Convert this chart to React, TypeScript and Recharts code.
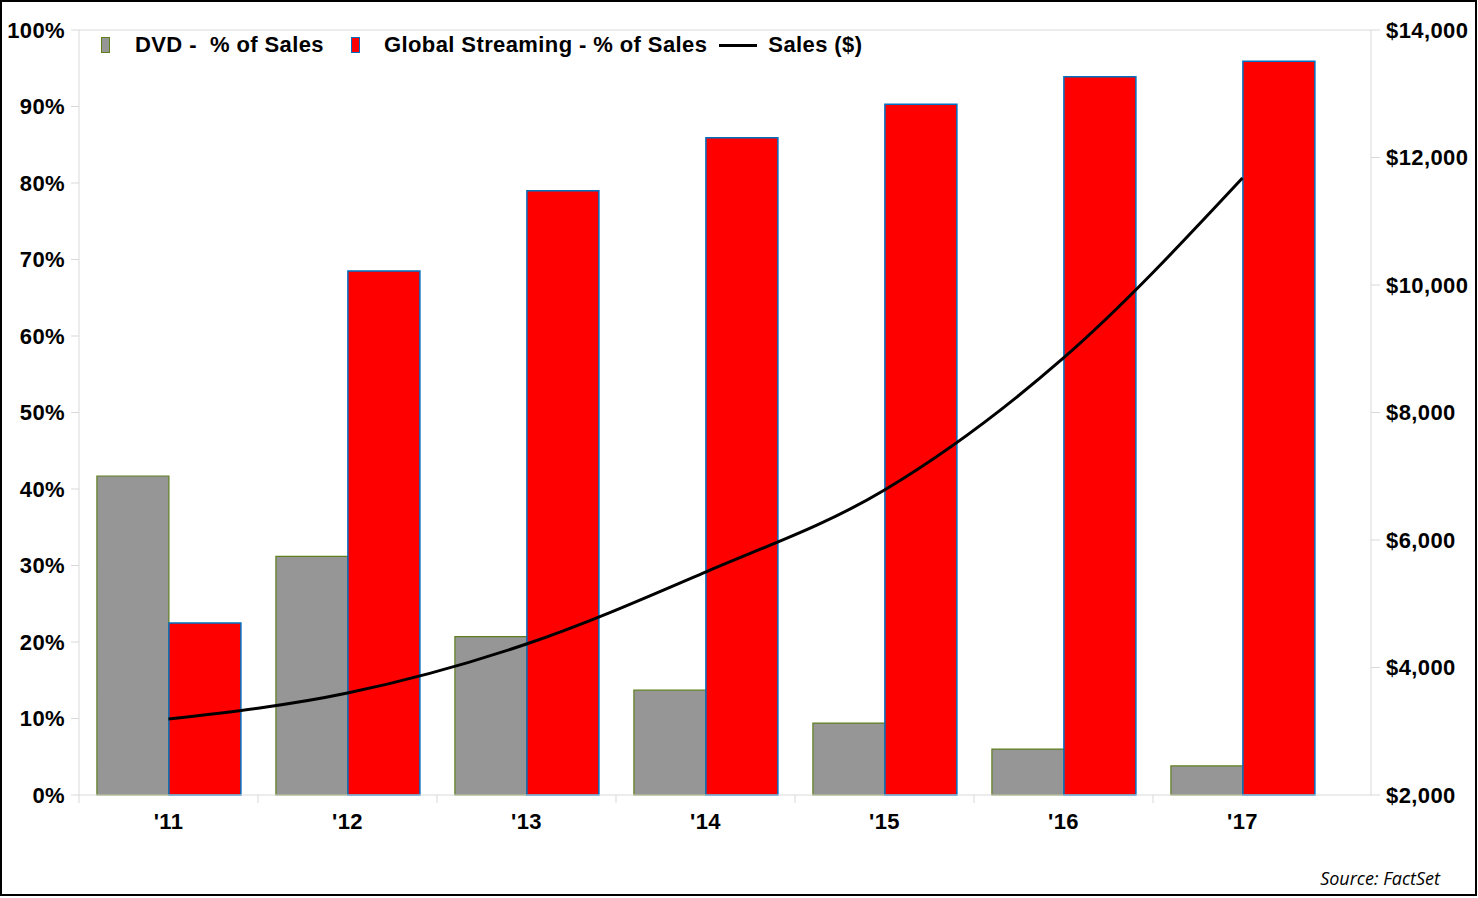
import { ComposedChart, Bar, Line, XAxis, YAxis, ReferenceLine } from 'recharts';

const years = ["'11", "'12", "'13", "'14", "'15", "'16", "'17"];
const dvdShare = [41.7, 31.2, 20.7, 13.7, 9.4, 6.0, 3.8];
const streamingShare = [22.5, 68.5, 79.0, 85.9, 90.3, 93.9, 95.9];
const salesUsd = [3192, 3600, 4369, 5498, 6784, 8855, 11678];

const pctTicks = [0, 10, 20, 30, 40, 50, 60, 70, 80, 90, 100];
const usdTicks = [2000, 4000, 6000, 8000, 10000, 12000, 14000];

const data = years.map((year, i) => ({
  year,
  dvd: dvdShare[i],
  streaming: streamingShare[i],
  sales: salesUsd[i],
}));

const W = 1478;
const H = 898;
const LEFT_W = 79;
const RIGHT_W = 107;
const X_PAD_RIGHT = 39;
const BAND = (W - LEFT_W - RIGHT_W - X_PAD_RIGHT) / years.length;

const FONT = '"Liberation Sans", Arial, sans-serif';
const GRID = '#d9d9d9';
const tickStyle = { fill: '#000', fontSize: 22, fontWeight: 700, fontFamily: FONT, letterSpacing: 0.4 };

function YearTick(props: any) {
  const { x, y, payload } = props;
  const left = x - BAND / 2;
  return (
    <g>
      <line x1={left} y1={y - 8} x2={left} y2={y} stroke={GRID} />
      <text x={x} y={y + 26} textAnchor="middle" {...tickStyle}>
        {payload.value}
      </text>
    </g>
  );
}

const legendText = {
  fontFamily: FONT,
  fontWeight: 700,
  fontSize: 22,
  letterSpacing: 0.4,
  color: '#000',
  whiteSpace: 'pre' as const,
};

export default function App() {
  return (
    <div style={{ position: 'absolute', left: 0, top: 0, width: W, height: H, background: '#fff' }}>
      <ComposedChart
        width={W}
        height={H}
        data={data}
        margin={{ top: 30, right: 0, bottom: 0, left: 0 }}
        barCategoryGap="10%"
        barGap={0}
      >
        <XAxis
          dataKey="year"
          xAxisId="x"
          height={103}
          interval={0}
          padding={{ left: 0, right: X_PAD_RIGHT }}
          axisLine={{ stroke: GRID }}
          tickLine={false}
          tickSize={8}
          tickMargin={0}
          tick={<YearTick />}
        />
        <YAxis
          yAxisId="pct"
          orientation="left"
          width={LEFT_W}
          domain={[0, 100]}
          ticks={pctTicks}
          interval={0}
          tickFormatter={(v: number) => `${v}%`}
          axisLine={{ stroke: GRID }}
          tickLine={{ stroke: GRID }}
          tickSize={8}
          tickMargin={6}
          tick={tickStyle}
        />
        <YAxis
          yAxisId="usd"
          orientation="right"
          width={RIGHT_W}
          domain={[2000, 14000]}
          ticks={usdTicks}
          interval={0}
          tickFormatter={(v: number) => `$${v.toLocaleString('en-US')}`}
          axisLine={{ stroke: GRID }}
          tickLine={{ stroke: GRID }}
          tickSize={9}
          tickMargin={6}
          tick={{ ...tickStyle, textAnchor: 'start' }}
        />
        <ReferenceLine yAxisId="pct" xAxisId="x" y={100} stroke={GRID} />
        <Bar
          dataKey="dvd"
          xAxisId="x"
          yAxisId="pct"
          fill="#969696"
          stroke="#5f7f1f"
          strokeWidth={1.2}
          isAnimationActive={false}
        />
        <Bar
          dataKey="streaming"
          xAxisId="x"
          yAxisId="pct"
          fill="#ff0000"
          stroke="#0070c0"
          strokeWidth={1.5}
          isAnimationActive={false}
        />
        <Line
          dataKey="sales"
          xAxisId="x"
          yAxisId="usd"
          type="monotone"
          stroke="#000"
          strokeWidth={3}
          dot={false}
          isAnimationActive={false}
        />
      </ComposedChart>

      <div style={{ position: 'absolute', left: 101, top: 31, display: 'flex', alignItems: 'center', height: 28 }}>
        <span style={{ width: 7, height: 14, background: '#969696', border: '1px solid #5f7f1f' }} />
        <span style={{ ...legendText, marginLeft: 25 }}>DVD -  % of Sales</span>
        <span style={{ width: 7, height: 14, background: '#ff0000', border: '1px solid #0070c0', marginLeft: 27 }} />
        <span style={{ ...legendText, marginLeft: 24 }}>Global Streaming - % of Sales</span>
        <span style={{ width: 38, height: 3, background: '#000', marginLeft: 12 }} />
        <span style={{ ...legendText, marginLeft: 11 }}>Sales ($)</span>
      </div>

      <div
        style={{
          position: 'absolute',
          right: 38,
          top: 866,
          fontFamily: '"Open Sans", "Liberation Sans", sans-serif',
          fontStyle: 'italic',
          fontSize: 18,
          color: '#000',
        }}
      >
        Source: FactSet
      </div>

      <div
        style={{
          position: 'absolute',
          left: 0,
          top: 0,
          width: W - 1,
          height: H - 2,
          border: '2px solid #000',
          boxSizing: 'border-box',
          pointerEvents: 'none',
        }}
      />
    </div>
  );
}
